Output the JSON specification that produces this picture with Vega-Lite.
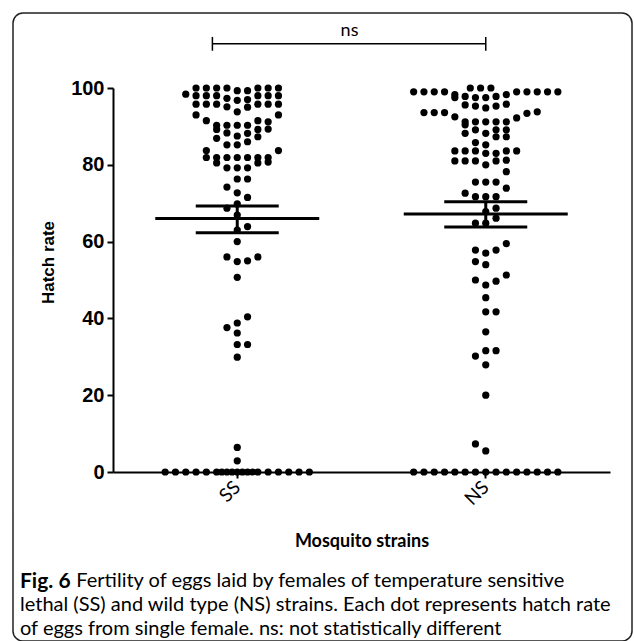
{
  "$schema": "https://vega.github.io/schema/vega-lite/v6.json",
  "autosize": {"type": "none"},
  "padding": {"left": 13, "top": 13, "right": 2, "bottom": 0},
  "width": 619,
  "height": 628,
  "background": "white",
  "config": {
    "view": {"stroke": "#222222", "strokeWidth": 1.5, "cornerRadius": 10},
    "axis": {"grid": false, "domainColor": "black", "tickColor": "black", "labelColor": "black", "titleColor": "black", "domainWidth": 2, "tickWidth": 2, "tickSize": 6}
  },
  "title": {
    "text": "Fig. 6",
    "subtitle": [
      "\u200b\u00a0\u00a0\u00a0\u00a0\u00a0\u00a0\u00a0\u00a0\u00a0\u00a0\u00a0Fertility of eggs laid by females of temperature sensitive",
      "lethal (SS) and wild type (NS) strains. Each dot represents hatch rate",
      "of eggs from single female. ns: not statistically different"
    ],
    "orient": "bottom",
    "anchor": "start",
    "frame": "group",
    "offset": -70,
    "dx": 7,
    "font": "Lato",
    "fontSize": 21,
    "fontWeight": "bold",
    "color": "black",
    "subtitleFont": "Lato",
    "subtitleFontSize": 20,
    "subtitleFontWeight": "normal",
    "subtitleColor": "black",
    "subtitleLineHeight": 24,
    "subtitlePadding": -21
  },
  "datasets": {
    "dots": [
      {"strain":"SS","rate":100,"slot":-4},{"strain":"SS","rate":100,"slot":-3},{"strain":"SS","rate":100,"slot":-2},{"strain":"SS","rate":100,"slot":-1},{"strain":"SS","rate":100,"slot":2},{"strain":"SS","rate":100,"slot":3},{"strain":"SS","rate":100,"slot":4},
      {"strain":"SS","rate":99.3,"slot":0},{"strain":"SS","rate":99.3,"slot":1},
      {"strain":"SS","rate":98.4,"slot":-5},
      {"strain":"SS","rate":98,"slot":-4},{"strain":"SS","rate":98,"slot":-3},{"strain":"SS","rate":98,"slot":-2},{"strain":"SS","rate":98,"slot":2},{"strain":"SS","rate":98,"slot":3},{"strain":"SS","rate":98,"slot":4},
      {"strain":"SS","rate":97.3,"slot":-1},{"strain":"SS","rate":97,"slot":1},{"strain":"SS","rate":96.8,"slot":0},
      {"strain":"SS","rate":95.8,"slot":-4},{"strain":"SS","rate":95.8,"slot":-3},{"strain":"SS","rate":95.8,"slot":-2},{"strain":"SS","rate":95.8,"slot":2},{"strain":"SS","rate":95.8,"slot":3},{"strain":"SS","rate":95.8,"slot":4},
      {"strain":"SS","rate":95.1,"slot":-1},{"strain":"SS","rate":95,"slot":1},
      {"strain":"SS","rate":93.8,"slot":0},
      {"strain":"SS","rate":93,"slot":-4},{"strain":"SS","rate":93,"slot":4},
      {"strain":"SS","rate":91.5,"slot":-3},{"strain":"SS","rate":91.5,"slot":2},{"strain":"SS","rate":91.2,"slot":3},
      {"strain":"SS","rate":90.3,"slot":-2},{"strain":"SS","rate":90.3,"slot":-1},{"strain":"SS","rate":90.3,"slot":0},{"strain":"SS","rate":90.3,"slot":1},
      {"strain":"SS","rate":89.2,"slot":-2},{"strain":"SS","rate":89.2,"slot":2},{"strain":"SS","rate":89.3,"slot":3},
      {"strain":"SS","rate":88.3,"slot":-1},{"strain":"SS","rate":88.2,"slot":1},
      {"strain":"SS","rate":87.5,"slot":0},{"strain":"SS","rate":87.3,"slot":2},
      {"strain":"SS","rate":86.9,"slot":-2},
      {"strain":"SS","rate":86,"slot":1},
      {"strain":"SS","rate":85.2,"slot":-1},{"strain":"SS","rate":85.2,"slot":0},
      {"strain":"SS","rate":83.7,"slot":-3},{"strain":"SS","rate":83.7,"slot":4},
      {"strain":"SS","rate":81.9,"slot":-3},{"strain":"SS","rate":81.9,"slot":-2},{"strain":"SS","rate":81.9,"slot":-1},{"strain":"SS","rate":81.9,"slot":0},{"strain":"SS","rate":81.9,"slot":1},{"strain":"SS","rate":81.9,"slot":2},{"strain":"SS","rate":81.9,"slot":3},
      {"strain":"SS","rate":80.5,"slot":-2},{"strain":"SS","rate":80.5,"slot":2},{"strain":"SS","rate":80.7,"slot":3},
      {"strain":"SS","rate":79.2,"slot":-1},{"strain":"SS","rate":79.2,"slot":0},{"strain":"SS","rate":79.2,"slot":1},
      {"strain":"SS","rate":76.3,"slot":0},{"strain":"SS","rate":76.3,"slot":1},
      {"strain":"SS","rate":74.2,"slot":-1},
      {"strain":"SS","rate":72.7,"slot":0},
      {"strain":"SS","rate":71.5,"slot":1},
      {"strain":"SS","rate":69.8,"slot":0},
      {"strain":"SS","rate":68.7,"slot":-1},
      {"strain":"SS","rate":66.9,"slot":0},
      {"strain":"SS","rate":63.9,"slot":1},
      {"strain":"SS","rate":63,"slot":0},
      {"strain":"SS","rate":60,"slot":0},
      {"strain":"SS","rate":56,"slot":-1},{"strain":"SS","rate":56,"slot":2},
      {"strain":"SS","rate":55,"slot":1},{"strain":"SS","rate":54.8,"slot":0},
      {"strain":"SS","rate":50.7,"slot":0},
      {"strain":"SS","rate":40.4,"slot":1},{"strain":"SS","rate":38.8,"slot":0},{"strain":"SS","rate":37.6,"slot":-1},{"strain":"SS","rate":36.2,"slot":0},
      {"strain":"SS","rate":33.2,"slot":0},{"strain":"SS","rate":33.2,"slot":1},{"strain":"SS","rate":29.9,"slot":0},
      {"strain":"SS","rate":6.4,"slot":0},{"strain":"SS","rate":2.9,"slot":0},
      {"strain":"SS","rate":0,"slot":-7},{"strain":"SS","rate":0,"slot":-6},{"strain":"SS","rate":0,"slot":-5},{"strain":"SS","rate":0,"slot":-4},{"strain":"SS","rate":0,"slot":-3},{"strain":"SS","rate":0,"slot":-2},{"strain":"SS","rate":0,"slot":-1.5},{"strain":"SS","rate":0,"slot":-1},{"strain":"SS","rate":0,"slot":-0.5},{"strain":"SS","rate":0,"slot":0},{"strain":"SS","rate":0,"slot":0.5},{"strain":"SS","rate":0,"slot":1},{"strain":"SS","rate":0,"slot":1.5},{"strain":"SS","rate":0,"slot":2},{"strain":"SS","rate":0,"slot":3},{"strain":"SS","rate":0,"slot":4},{"strain":"SS","rate":0,"slot":5},{"strain":"SS","rate":0,"slot":6},{"strain":"SS","rate":0,"slot":7},

      {"strain":"NS","rate":100,"slot":-1.5},{"strain":"NS","rate":100,"slot":-0.5},{"strain":"NS","rate":100,"slot":0.5},
      {"strain":"NS","rate":99,"slot":-7},{"strain":"NS","rate":99,"slot":-6},{"strain":"NS","rate":99,"slot":-5},{"strain":"NS","rate":99,"slot":-4},{"strain":"NS","rate":99,"slot":3},{"strain":"NS","rate":99,"slot":4},{"strain":"NS","rate":99,"slot":5},{"strain":"NS","rate":99,"slot":6},{"strain":"NS","rate":99,"slot":7},
      {"strain":"NS","rate":98.3,"slot":-3},{"strain":"NS","rate":97.5,"slot":-3},{"strain":"NS","rate":97.8,"slot":-2},{"strain":"NS","rate":97.5,"slot":-1},{"strain":"NS","rate":97.5,"slot":0},{"strain":"NS","rate":97.8,"slot":1},{"strain":"NS","rate":98.3,"slot":2},
      {"strain":"NS","rate":95.6,"slot":-2},{"strain":"NS","rate":95.3,"slot":-1},{"strain":"NS","rate":94.8,"slot":0},{"strain":"NS","rate":95.3,"slot":1},{"strain":"NS","rate":95.8,"slot":2},
      {"strain":"NS","rate":93.6,"slot":-6},{"strain":"NS","rate":93.6,"slot":-5},{"strain":"NS","rate":93.6,"slot":-4},{"strain":"NS","rate":92.5,"slot":-3},{"strain":"NS","rate":92.2,"slot":3},{"strain":"NS","rate":93.4,"slot":4},{"strain":"NS","rate":93.8,"slot":5},
      {"strain":"NS","rate":91.2,"slot":-2},{"strain":"NS","rate":91.2,"slot":-1},{"strain":"NS","rate":91.2,"slot":0},{"strain":"NS","rate":91.2,"slot":1},{"strain":"NS","rate":91.2,"slot":2},{"strain":"NS","rate":90.4,"slot":-2},
      {"strain":"NS","rate":89.1,"slot":-1},{"strain":"NS","rate":89.1,"slot":1},{"strain":"NS","rate":89.1,"slot":2},{"strain":"NS","rate":88.2,"slot":-2},{"strain":"NS","rate":88.2,"slot":0},{"strain":"NS","rate":87.3,"slot":1},{"strain":"NS","rate":87.3,"slot":2},
      {"strain":"NS","rate":85.8,"slot":-1},{"strain":"NS","rate":85.2,"slot":0},
      {"strain":"NS","rate":83.6,"slot":-3},{"strain":"NS","rate":83.6,"slot":-2},{"strain":"NS","rate":83.6,"slot":-1},{"strain":"NS","rate":83,"slot":0},{"strain":"NS","rate":83,"slot":1},{"strain":"NS","rate":83.6,"slot":2},{"strain":"NS","rate":83.6,"slot":3},
      {"strain":"NS","rate":81,"slot":-3},{"strain":"NS","rate":81,"slot":-2},{"strain":"NS","rate":81,"slot":-1},{"strain":"NS","rate":80,"slot":0},{"strain":"NS","rate":81,"slot":1},{"strain":"NS","rate":81.2,"slot":2},
      {"strain":"NS","rate":78.2,"slot":2},
      {"strain":"NS","rate":75.5,"slot":-1},{"strain":"NS","rate":75.5,"slot":0},{"strain":"NS","rate":75.5,"slot":1},
      {"strain":"NS","rate":73.9,"slot":2},
      {"strain":"NS","rate":72.6,"slot":-2},
      {"strain":"NS","rate":71.7,"slot":-1},{"strain":"NS","rate":71.7,"slot":0},{"strain":"NS","rate":71.7,"slot":1},
      {"strain":"NS","rate":68.7,"slot":1},{"strain":"NS","rate":67.8,"slot":0},{"strain":"NS","rate":66.1,"slot":1},{"strain":"NS","rate":64.8,"slot":-1},{"strain":"NS","rate":64.8,"slot":0},
      {"strain":"NS","rate":59.5,"slot":2},{"strain":"NS","rate":57.8,"slot":-1},{"strain":"NS","rate":57.8,"slot":1},{"strain":"NS","rate":57,"slot":0},{"strain":"NS","rate":54.8,"slot":-1},{"strain":"NS","rate":54,"slot":0},
      {"strain":"NS","rate":51.3,"slot":2},{"strain":"NS","rate":50,"slot":-1},{"strain":"NS","rate":49.7,"slot":1},{"strain":"NS","rate":48.7,"slot":0},{"strain":"NS","rate":45.4,"slot":0},
      {"strain":"NS","rate":41.7,"slot":0},{"strain":"NS","rate":41.7,"slot":1},{"strain":"NS","rate":36.5,"slot":0},
      {"strain":"NS","rate":31.6,"slot":0},{"strain":"NS","rate":31.6,"slot":1},{"strain":"NS","rate":30.2,"slot":-1},{"strain":"NS","rate":27.9,"slot":0},
      {"strain":"NS","rate":20,"slot":0},{"strain":"NS","rate":7.3,"slot":-1},{"strain":"NS","rate":5.5,"slot":0},
      {"strain":"NS","rate":0,"slot":-7},{"strain":"NS","rate":0,"slot":-6},{"strain":"NS","rate":0,"slot":-5},{"strain":"NS","rate":0,"slot":-4},{"strain":"NS","rate":0,"slot":-3},{"strain":"NS","rate":0,"slot":-2},{"strain":"NS","rate":0,"slot":-1},{"strain":"NS","rate":0,"slot":0},{"strain":"NS","rate":0,"slot":1},{"strain":"NS","rate":0,"slot":2},{"strain":"NS","rate":0,"slot":3},{"strain":"NS","rate":0,"slot":4},{"strain":"NS","rate":0,"slot":5},{"strain":"NS","rate":0,"slot":6},{"strain":"NS","rate":0,"slot":7}
    ],
    "summary": [
      {"strain": "SS", "mean": 66.0, "lo": 62.3, "hi": 69.3},
      {"strain": "NS", "mean": 67.2, "lo": 63.8, "hi": 70.4}
    ],
    "compare": [
      {"from": "SS", "to": "NS", "label": "ns", "level": 111.5, "capLo": 109.7, "capHi": 113.3, "textLevel": 114.8, "mid": 10.9}
    ]
  },
  "layer": [
    {
      "data": {"name": "dots"},
      "mark": {"type": "point", "filled": true, "color": "black", "size": 52, "opacity": 1},
      "encoding": {
        "x": {
          "field": "strain", "type": "nominal",
          "scale": {"type": "band", "domain": ["SS", "NS"], "range": [100, 597], "paddingInner": 0.5, "paddingOuter": 0.25},
          "axis": {
            "offset": -169, "labelAngle": -45, "labelAlign": "right", "labelBaseline": "middle",
            "labelFont": "Lato", "labelFontSize": 19, "labelPadding": 6,
            "title": "Mosquito strains", "titleFont": "Lato", "titleFontSize": 18, "titleFontWeight": "bold", "titlePadding": 24
          }
        },
        "xOffset": {"field": "slot", "type": "quantitative", "scale": {"domain": [-10, 10], "range": [-40.875, 165.125]}},
        "y": {
          "field": "rate", "type": "quantitative",
          "scale": {"domain": [0, 100], "range": [459, 75]},
          "axis": {
            "offset": -100, "values": [0, 20, 40, 60, 80, 100],
            "labelFont": "Liberation Sans", "labelFontSize": 20, "labelFontWeight": "bold", "labelPadding": 3,
            "title": "Hatch rate", "titleFont": "Liberation Sans", "titleFontSize": 17, "titleFontWeight": "bold", "titlePadding": 13, "titleY": 249
          }
        }
      }
    },
    {
      "data": {"name": "summary"},
      "mark": {"type": "tick", "color": "black", "opacity": 1, "size": 164, "thickness": 3},
      "encoding": {"x": {"field": "strain", "type": "nominal"}, "y": {"field": "mean", "type": "quantitative"}}
    },
    {
      "data": {"name": "summary"},
      "mark": {"type": "tick", "color": "black", "opacity": 1, "size": 83, "thickness": 3},
      "encoding": {"x": {"field": "strain", "type": "nominal"}, "y": {"field": "lo", "type": "quantitative"}}
    },
    {
      "data": {"name": "summary"},
      "mark": {"type": "tick", "color": "black", "opacity": 1, "size": 83, "thickness": 3},
      "encoding": {"x": {"field": "strain", "type": "nominal"}, "y": {"field": "hi", "type": "quantitative"}}
    },
    {
      "data": {"name": "summary"},
      "mark": {"type": "rule", "color": "black", "strokeWidth": 3},
      "encoding": {"x": {"field": "strain", "type": "nominal"}, "y": {"field": "lo", "type": "quantitative"}, "y2": {"field": "hi"}}
    },
    {
      "data": {"name": "compare"},
      "mark": {"type": "rule", "color": "black", "strokeWidth": 1.5},
      "encoding": {"x": {"field": "from", "type": "nominal", "bandPosition": 0.3}, "x2": {"field": "to", "bandPosition": 0.5}, "y": {"field": "level", "type": "quantitative"}}
    },
    {
      "data": {"name": "compare"},
      "mark": {"type": "rule", "color": "black", "strokeWidth": 1.5},
      "encoding": {"x": {"field": "from", "type": "nominal", "bandPosition": 0.3}, "y": {"field": "capLo", "type": "quantitative"}, "y2": {"field": "capHi"}}
    },
    {
      "data": {"name": "compare"},
      "mark": {"type": "rule", "color": "black", "strokeWidth": 1.5},
      "encoding": {"x": {"field": "to", "type": "nominal"}, "y": {"field": "capLo", "type": "quantitative"}, "y2": {"field": "capHi"}}
    },
    {
      "data": {"name": "compare"},
      "mark": {"type": "text", "color": "black", "font": "Lato", "fontSize": 18, "baseline": "middle", "align": "center"},
      "encoding": {
        "x": {"field": "from", "type": "nominal"},
        "xOffset": {"field": "mid", "type": "quantitative", "scale": {"domain": [-10, 10], "range": [-40.875, 165.125]}},
        "y": {"field": "textLevel", "type": "quantitative"},
        "text": {"field": "label"}
      }
    }
  ]
}
